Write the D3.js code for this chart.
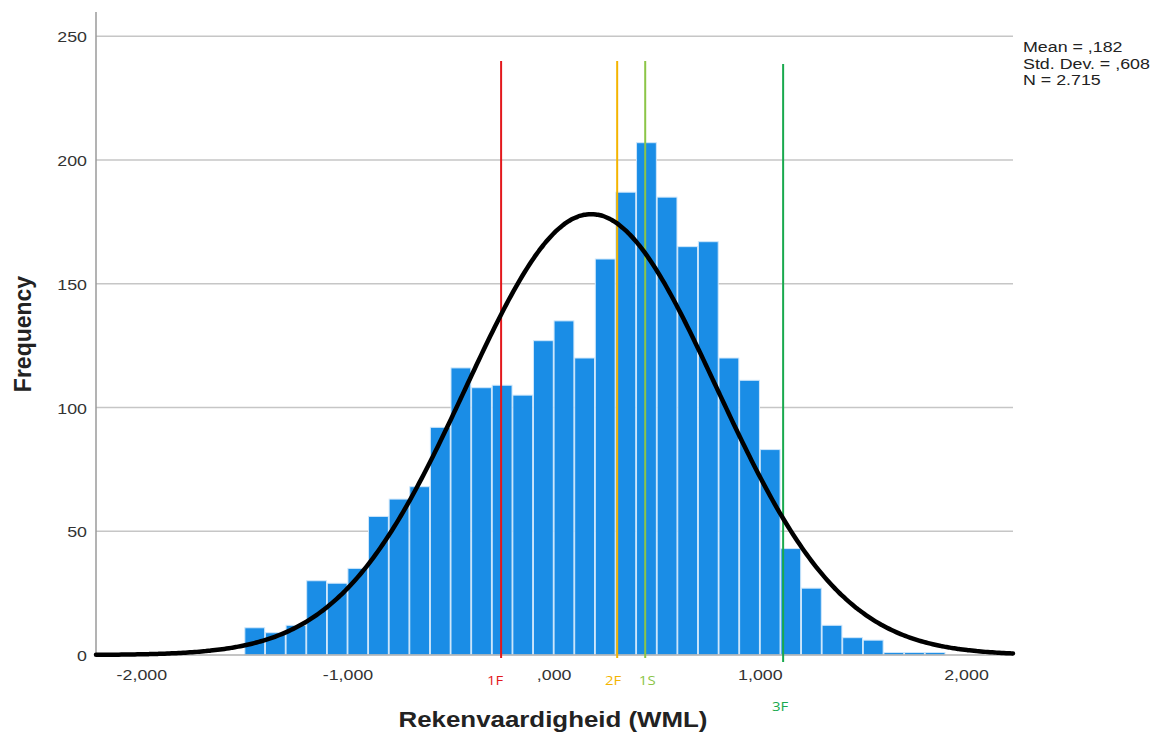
<!DOCTYPE html>
<html>
<head>
<meta charset="utf-8">
<script src="https://cdn.jsdelivr.net/npm/d3@7"></script>
<style>
  html, body { margin: 0; padding: 0; background: #fff; }
  svg { display: block; }
</style>
</head>
<body>
<svg id="chart" width="1153" height="733"></svg>
<script>
// Histogram of Rekenvaardigheid (WML) scores, bins of width 0.1
const binStarts = [-1.5, -1.4, -1.3, -1.2, -1.1, -1.0, -0.9, -0.8, -0.7, -0.6,
                   -0.5, -0.4, -0.3, -0.2, -0.1, 0.0, 0.1, 0.2, 0.3, 0.4,
                   0.5, 0.6, 0.7, 0.8, 0.9, 1.0, 1.1, 1.2, 1.3, 1.4,
                   1.5, 1.6, 1.7, 1.8];
const frequencies = [11, 9, 12, 30, 29, 35, 56, 63, 68, 92,
                     116, 108, 109, 105, 127, 135, 120, 160, 187, 207,
                     185, 165, 167, 120, 111, 83, 43, 27, 12, 7,
                     6, 1, 1, 1];
const binWidth = 0.1;

// Summary statistics shown in the corner and used for the normal curve
const statMean = 0.182;
const statSd = 0.608;
const statN = 2715;
const statLines = ["Mean = ,182", "Std. Dev. = ,608", "N = 2.715"];

// Reference thresholds
const refLabels = ["1F", "2F", "1S", "3F"];
const refValues = [-0.255, 0.308, 0.444, 1.113];

const xTicks = [-2, -1, 0, 1, 2];
const xTickLabels = ["-2,000", "-1,000", ",000", "1,000", "2,000"];
const yTicks = [0, 50, 100, 150, 200, 250];

const xTitle = "Rekenvaardigheid (WML)";
const yTitle = "Frequency";

// ---- styling ----
const refColors = { "1F": "#e3181c", "2F": "#f4b400", "1S": "#8cc547", "3F": "#19a94e" };
const labelDrop = { "1F": 0, "2F": 0, "1S": 0, "3F": 26 };
const labelShift = { "1F": -6, "2F": -4, "1S": 2, "3F": -3 };
const stretch = 1.15;   // horizontal widening of all horizontal text
const font = "'Liberation Sans', Arial, sans-serif";

const svg = d3.select("#chart");
const plotLeft = 96, plotRight = 1013, plotTop = 14, plotBottom = 655;

const x = d3.scaleLinear().domain([-2.22, 2.228]).range([plotLeft, plotRight]);
const y = d3.scaleLinear().domain([0, 259]).range([plotBottom, plotTop]);

// helper: horizontally stretched text anchored at (px, py)
function stretchedText(g, px, py, str, opts) {
  return g.append("g").attr("transform", `translate(${px},${py}) scale(${stretch},1)`)
    .append("text")
    .attr("x", 0).attr("y", 0)
    .attr("font-family", opts.family || font)
    .attr("font-size", opts.size)
    .attr("font-weight", opts.weight || "normal")
    .attr("fill", opts.fill || "#222")
    .attr("text-anchor", opts.anchor || "middle")
    .text(str);
}

// gridlines
svg.append("g").selectAll("line")
  .data(yTicks.filter(d => d > 0))
  .join("line")
  .attr("x1", plotLeft).attr("x2", plotRight)
  .attr("y1", d => y(d)).attr("y2", d => y(d))
  .attr("stroke", "#c6c6c6").attr("stroke-width", 1.5);

// bars
const bins = binStarts.map((s, i) => ({ x0: s, x1: s + binWidth, n: frequencies[i] }));
svg.append("g").selectAll("rect")
  .data(bins)
  .join("rect")
  .attr("x", d => x(d.x0) + 0.4)
  .attr("width", d => x(d.x1) - x(d.x0) - 0.8)
  .attr("y", d => y(d.n))
  .attr("height", d => y(0) - y(d.n))
  .attr("fill", "#1a8de6")
  .attr("stroke", "#cfe7fb")
  .attr("stroke-width", 1);

// axis lines
svg.append("line")
  .attr("x1", plotLeft).attr("x2", plotLeft).attr("y1", plotTop - 2).attr("y2", plotBottom)
  .attr("stroke", "#9a9a9a").attr("stroke-width", 1.5);
svg.append("line")
  .attr("x1", plotLeft).attr("x2", plotRight).attr("y1", plotBottom).attr("y2", plotBottom)
  .attr("stroke", "#b0b0b0").attr("stroke-width", 1.5);

// y axis tick labels
const yAxis = d3.axisLeft(y).tickValues(yTicks).tickSize(0).tickPadding(0).tickFormat(d3.format("d"));
const yAxisG = svg.append("g").attr("transform", `translate(${plotLeft - 9},0)`).call(yAxis);
yAxisG.select(".domain").remove();
yAxisG.selectAll(".tick text").remove();
yAxisG.selectAll(".tick").each(function (d) {
  stretchedText(d3.select(this), 0, 5.5, String(d), { size: 15.5, anchor: "end", fill: "#333" });
});

// x axis tick labels
const xAxis = d3.axisBottom(x).tickValues(xTicks).tickSize(0).tickFormat((d, i) => xTickLabels[i]);
const xAxisG = svg.append("g").attr("transform", `translate(0,${plotBottom})`).call(xAxis);
xAxisG.select(".domain").remove();
xAxisG.selectAll(".tick text").remove();
xAxisG.selectAll(".tick").each(function (d) {
  const i = xTicks.indexOf(d);
  stretchedText(d3.select(this), 0, 25, xTickLabels[i], { size: 15.5, anchor: "middle", fill: "#333" });
});

// reference lines
refValues.forEach((v, i) => {
  const lab = refLabels[i];
  svg.append("line")
    .attr("x1", x(v)).attr("x2", x(v))
    .attr("y1", y(240) + (lab === "3F" ? 3 : 0))
    .attr("y2", plotBottom + (lab === "3F" ? 7 : 3))
    .attr("stroke", refColors[lab]).attr("stroke-width", 2);
});

// normal curve
const normal = xv => statN * binWidth / (statSd * Math.sqrt(2 * Math.PI)) *
  Math.exp(-0.5 * Math.pow((xv - statMean) / statSd, 2));
const curvePts = d3.range(0, 401).map(k => {
  const xv = x.domain()[0] + (x.domain()[1] - x.domain()[0]) * k / 400;
  return [xv, normal(xv)];
});
svg.append("path")
  .datum(curvePts)
  .attr("d", d3.line().x(d => x(d[0])).y(d => y(d[1])).curve(d3.curveBasis))
  .attr("fill", "none").attr("stroke", "#000").attr("stroke-width", 4.5)
  .attr("stroke-linecap", "round");

// reference labels
refValues.forEach((v, i) => {
  const lab = refLabels[i];
  stretchedText(svg, x(v) + labelShift[lab], 685 + labelDrop[lab], lab,
    { size: 13, anchor: "middle", fill: refColors[lab], family: "'Open Sans', 'Noto Sans', sans-serif" });
});

// statistics box
statLines.forEach((s, i) => {
  stretchedText(svg, 1023, 52 + i * 16.5, s, { size: 15.5, anchor: "start", fill: "#222" });
});

// axis titles
stretchedText(svg, 553, 727, xTitle, { size: 22.5, anchor: "middle", weight: "bold", fill: "#222" });
svg.append("text")
  .attr("transform", `translate(31,334) rotate(-90)`)
  .attr("text-anchor", "middle")
  .attr("font-family", font).attr("font-size", 23).attr("font-weight", "bold")
  .attr("fill", "#222")
  .text(yTitle);
</script>
</body>
</html>
